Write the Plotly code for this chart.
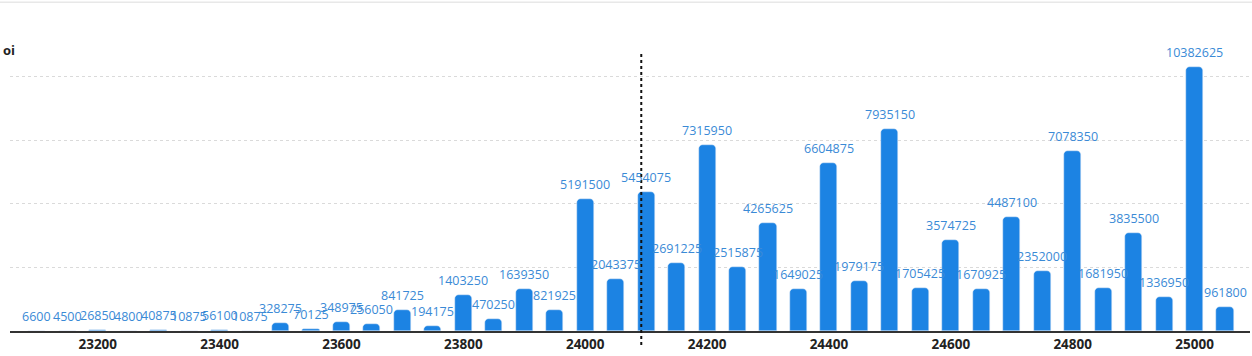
import plotly.graph_objects as go

strikes = list(range(23100, 25051, 50))
oi = [6600, 4500, 26850, 4800, 40875, 10875, 56100, 10875, 328275, 70125,
      348975, 256050, 841725, 194175, 1403250, 470250, 1639350, 821925,
      5191500, 2043375, 5454075, 2691225, 7315950, 2515875, 4265625, 1649025,
      6604875, 1979175, 7935150, 1705425, 3574725, 1670925, 4487100, 2352000,
      7078350, 1681950, 3835500, 1336950, 10382625, 961800]
tick_vals = list(range(23200, 25001, 200))
spot = 24092

BAR = "#1c83e3"
LBL = "#3a8ad6"

fig = go.Figure()
fig.add_trace(go.Bar(x=strikes, y=oi, width=28, marker=dict(color=BAR, cornerradius=4),
                     hoverinfo="x+y"))

for s, v in zip(strikes, oi):
    fig.add_annotation(x=s, y=v, text=str(v), showarrow=False, yanchor="bottom",
                       yshift=4, font=dict(family="Open Sans", size=12.5, color=LBL))

fig.add_shape(type="line", x0=spot, x1=spot, xref="x", yref="paper", y0=-0.048, y1=0.955,
              line=dict(color="#111111", width=2, dash="dot"))
fig.add_shape(type="line", xref="paper", yref="paper", x0=-0.01, x1=1.01, y0=1.13, y1=1.13,
              line=dict(color="#dddddd", width=1))

fig.add_annotation(xref="paper", yref="paper", x=-0.007, y=0.966, text="<b>oi</b>",
                   showarrow=False, xanchor="left", yanchor="middle",
                   font=dict(family="Open Sans", size=13, color="#222222"))

fig.update_layout(
    width=1252, height=356,
    margin=dict(l=10, r=2, t=40, b=25),
    paper_bgcolor="white", plot_bgcolor="white",
    showlegend=False,
    bargap=0,
    xaxis=dict(range=[23056, 25091], tickvals=tick_vals,
               ticktext=[f"<b>{t}</b>" for t in tick_vals],
               tickfont=dict(family="Open Sans", size=13.5, color="#222222"),
               showgrid=False, showline=True, linecolor="#333333", linewidth=2,
               ticks="", zeroline=False),
    yaxis=dict(range=[0, 11.44e6], dtick=2.5e6, showticklabels=False,
               showgrid=True, gridcolor="#dadada", griddash="dot", gridwidth=1,
               zeroline=False, ticks=""),
)

fig.write_html("out.html", config={"displayModeBar": False},
               post_script="document.body.style.margin='0';")
